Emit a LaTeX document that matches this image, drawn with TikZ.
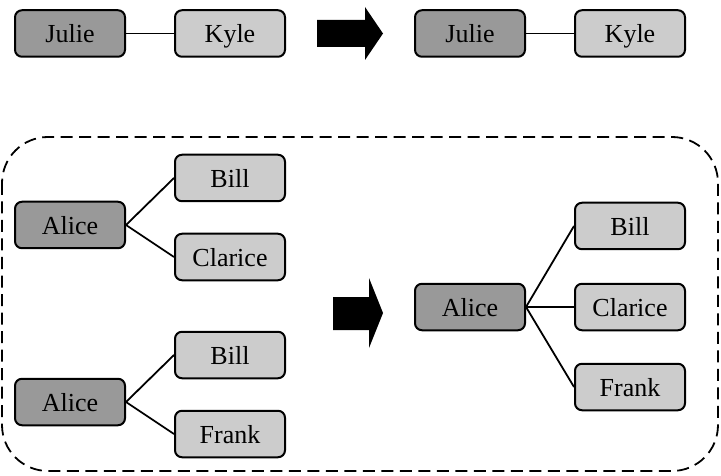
\documentclass[tikz,border=0pt]{standalone}
\usepackage{fontspec}
\setmainfont{Liberation Serif}
\begin{document}
\begin{tikzpicture}[x=1pt,y=-1pt,
  person/.style={draw=black,line width=2pt,rounded corners=7pt,
    minimum width=110pt,minimum height=46.5pt,inner sep=0pt,
    text height=19pt,text depth=0pt,font=\fontsize{26}{30}\selectfont},
  dark/.style={person,fill=black!40},
  light/.style={person,fill=black!20},
  link/.style={draw=black,line width=1.8pt},
  bigarrow/.style={fill=black,draw=none}]
\useasboundingbox (0,0) rectangle (721,476);

% group of merged records
\draw[line width=1.8pt,dash pattern=on 12pt off 6.5pt,rounded corners=46pt]
  (2,137) rectangle (718,471);

% top row: a pair that stays unchanged
\node[dark]  (j1) at (70,33.5)  {Julie};
\node[light] (k1) at (230,33.5) {Kyle};
\node[dark]  (j2) at (470,33.5) {Julie};
\node[light] (k2) at (630,33.5) {Kyle};
\draw[link] (j1) -- (k1);
\draw[link] (j2) -- (k2);
\fill[bigarrow] (317,20) -- (365,20) -- (365,7) -- (383,33.5) -- (365,60) -- (365,47) -- (317,47) -- cycle;

% left: two separate records for Alice
\node[dark]  (a1) at (70,225)  {Alice};
\node[light] (b1) at (230,178) {Bill};
\node[light] (c1) at (230,257) {Clarice};
\draw[link] (a1.east) -- (b1.west);
\draw[link] (a1.east) -- (c1.west);

\node[dark]  (a2) at (70,402)  {Alice};
\node[light] (b2) at (230,355) {Bill};
\node[light] (f2) at (230,434) {Frank};
\draw[link] (a2.east) -- (b2.west);
\draw[link] (a2.east) -- (f2.west);

\fill[bigarrow] (333,297) -- (369,297) -- (369,278) -- (383,313) -- (369,348) -- (369,330) -- (333,330) -- cycle;

% right: the merged record
\node[dark]  (a3) at (470,307) {Alice};
\node[light] (b3) at (630,226) {Bill};
\node[light] (c3) at (630,307) {Clarice};
\node[light] (f3) at (630,387) {Frank};
\draw[link] (a3.east) -- (b3.west);
\draw[link] (a3.east) -- (c3.west);
\draw[link] (a3.east) -- (f3.west);
\end{tikzpicture}
\end{document}
